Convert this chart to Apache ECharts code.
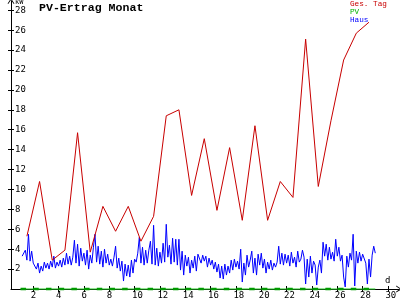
<!DOCTYPE html>
<html>
<head>
<meta charset="utf-8">
<script src="https://cdn.jsdelivr.net/npm/echarts@6/dist/echarts.min.js"></script>
<style>
html,body{margin:0;padding:0;background:#fff;}
#c{width:400px;height:300px;}
</style>
</head>
<body>
<div id="c"></div>
<script>
// ---- data ----
const titleText = 'PV-Ertrag Monat';
const legendNames = ['Ges. Tag', 'PV', 'Haus'];
const yUnit = 'kW';
const xUnit = 'd';
const xTickValues = [2,4,6,8,10,12,14,16,18,20,22,24,26,28,30];
const yTickValues = [2,4,6,8,10,12,14,16,18,20,22,24,26,28];

// daily totals (plotted at mid-day)
const gesTagDays = [1.5,2.5,3.5,4.5,5.5,6.5,7.5,8.5,9.5,10.5,11.5,12.5,13.5,14.5,15.5,16.5,17.5,18.5,19.5,20.5,21.5,22.5,23.5,24.5,25.5,26.5,27.5,28.5];
const gesTagValues = [5.3,10.8,2.9,3.9,15.7,3.7,8.3,5.8,8.3,4.8,7.3,17.4,18.0,9.4,15.1,7.9,14.2,6.9,16.4,6.9,10.8,9.2,25.1,10.3,16.9,23.0,25.7,26.8];

// PV (zero all month)
const pvDays = [1,2,3,4,5,6,7,8,9,10,11,12,13,14,15,16,17,18,19,20,21,22,23,24,25,26,27,28,29];
const pvValues = [0,0,0,0,0,0,0,0,0,0,0,0,0,0,0,0,0,0,0,0,0,0,0,0,0,0,0,0,0];

// house load, every 3 h, starting at day 1.125
const hausStart = 1.125;
const hausStep = 0.125;
const hausDay01 = [3.3,3.4,3.9,2.9,5.5,2.8,3.8,2.6];
const hausDay02 = [2.4,2.0,2.6,1.6,2.3,1.8,2.7,2.1];
const hausDay03 = [2.6,2.0,2.8,2.2,3.3,2.1,2.7,2.3];
const hausDay04 = [2.9,2.2,3.1,2.4,3.6,2.5,3.3,2.4];
const hausDay05 = [3.2,4.9,2.6,4.5,2.3,4.1,2.8,3.6];
const hausDay06 = [2.4,3.9,2.0,3.4,2.6,4.2,5.5,2.7];
const hausDay07 = [4.3,2.5,3.8,2.2,4.0,2.6,3.5,2.4];
const hausDay08 = [3.0,2.3,3.2,4.3,2.1,3.1,1.8,2.8];
const hausDay09 = [0.8,2.5,1.3,2.4,1.2,2.9,1.6,3.0];
const hausDay10 = [2.7,3.6,5.2,2.6,4.2,2.4,3.9,2.6];
const hausDay11 = [3.9,4.8,2.5,6.4,2.4,4.1,2.3,3.7];
const hausDay12 = [2.6,4.6,2.7,6.5,3.2,4.4,2.5,5.1];
const hausDay13 = [2.7,5.0,2.4,5.0,1.9,3.8,1.4,3.4];
const hausDay14 = [2.3,3.2,1.6,2.9,2.1,3.3,1.8,3.5];
const hausDay15 = [3.7,2.6,3.4,2.8,3.3,2.2,3.1,2.4];
const hausDay16 = [2.9,2.0,2.7,1.7,2.5,1.1,2.3,1.0];
const hausDay17 = [2.5,1.4,2.3,1.6,2.9,1.9,3.0,2.2];
const hausDay18 = [2.8,2.0,4.0,0.7,2.6,1.4,3.4,2.2];
const hausDay19 = [2.9,3.8,1.6,3.1,1.4,3.5,2.4,3.6];
const hausDay20 = [2.1,3.0,1.6,2.7,2.0,2.9,1.9,2.6];
const hausDay21 = [2.2,2.7,4.3,2.5,3.6,2.4,3.5,2.6];
const hausDay22 = [3.4,2.3,3.7,2.6,3.2,2.2,3.8,2.7];
const hausDay23 = [3.0,3.9,3.2,0.5,3.0,1.2,3.3,1.6];
const hausDay24 = [2.8,2.4,0.4,2.2,2.9,1.6,4.7,3.3];
const hausDay25 = [4.5,2.9,4.2,3.0,3.7,2.8,5.0,3.3];
const hausDay26 = [4.2,2.8,3.4,1.2,0.2,3.3,2.2,3.6];
const hausDay27 = [2.9,5.5,0.3,3.8,2.6,3.7,2.8,3.5];
const hausDay28 = [3.3,2.6,0.5,3.0,1.2,3.4,4.3,3.6];
const hausRows = [hausDay01,hausDay02,hausDay03,hausDay04,hausDay05,hausDay06,hausDay07,hausDay08,hausDay09,hausDay10,
  hausDay11,hausDay12,hausDay13,hausDay14,hausDay15,hausDay16,hausDay17,hausDay18,hausDay19,hausDay20,
  hausDay21,hausDay22,hausDay23,hausDay24,hausDay25,hausDay26,hausDay27,hausDay28];

// ---- build ----
const hausData = [].concat(...hausRows).map((v, i) => [hausStart + i * hausStep, v]);
const gesData = gesTagDays.map((d, i) => [d, gesTagValues[i]]);
const pvData = pvDays.map((d, i) => [d, pvValues[i]]);

const RED = '#c80000', GREEN = '#00b400', BLUE = '#0000ff';
const monoFont = 'DejaVu Sans Mono';
const arrow = 'path://M5,0 L10,8 L8.6,8 L5,2.4 L1.4,8 L0,8 Z';

const chart = echarts.init(document.getElementById('c'), null, {renderer: 'canvas'});
const xMin = 0.245, xMax = 30.87;
const yMin = 0, yMax = 28.93;

chart.setOption({
  animation: false,
  backgroundColor: '#fff',
  grid: {left: 11, right: 1, top: 1, bottom: 9.7, containLabel: false},
  xAxis: [{
    type: 'value', min: xMin, max: xMax, position: 'bottom',
    axisLine: {show: true, onZero: false, lineStyle: {color: '#000', width: 1}, symbol: ['none', arrow], symbolSize: [7, 6]},
    axisTick: {show: true, length: 3, customValues: xTickValues, lineStyle: {color: '#000'}},
    axisLabel: {show: true, customValues: xTickValues.map(v => v - 0.2), formatter: v => String(Math.round(v + 0.2)),
      align: 'left', margin: 2, fontFamily: monoFont, fontSize: 9, color: '#000'},
    splitLine: {show: false}
  }, {
    type: 'value', min: xMin, max: xMax, position: 'bottom',
    axisLine: {show: false},
    axisTick: {show: true, inside: true, length: 3, customValues: xTickValues, lineStyle: {color: '#000'}},
    axisLabel: {show: false}, splitLine: {show: false}
  }],
  yAxis: [{
    type: 'value', min: yMin, max: yMax, position: 'left',
    axisLine: {show: true, onZero: false, lineStyle: {color: '#000', width: 1}, symbol: ['none', arrow], symbolSize: [7, 6]},
    axisTick: {show: true, length: 3, customValues: yTickValues, lineStyle: {color: '#000'}},
    axisLabel: {show: true, inside: true, margin: 4, customValues: yTickValues, fontFamily: monoFont, fontSize: 9, color: '#000'},
    splitLine: {show: false}
  }, {
    type: 'value', min: yMin, max: yMax, position: 'left',
    axisLine: {show: false},
    axisTick: {show: true, inside: true, length: 3, customValues: yTickValues, lineStyle: {color: '#000'}},
    axisLabel: {show: false}, splitLine: {show: false}
  }],
  series: [
    {name: legendNames[1], type: 'line', data: pvData, showSymbol: false, symbol: 'none', clip: false,
      lineStyle: {color: '#22cc22', width: 1}, z: 2},
    {name: legendNames[1] + '_dash', type: 'line', data: pvData, showSymbol: false, symbol: 'none', clip: false,
      lineStyle: {color: '#009a00', width: 2.5, type: [5.5, 7.2], dashOffset: 0}, z: 3},
    {name: legendNames[2], type: 'line', data: hausData, showSymbol: false, symbol: 'none', clip: false,
      lineStyle: {color: BLUE, width: 1}, z: 4},
    {name: legendNames[0], type: 'line', data: gesData, showSymbol: false, symbol: 'none', clip: false,
      lineStyle: {color: RED, width: 1}, z: 5}
  ],
  graphic: [
    {type: 'text', left: 39, top: 2, style: {text: titleText, font: 'bold 11.6px "Liberation Mono"', fill: '#000'}},
    {type: 'text', left: 15, top: -1, style: {text: yUnit, font: '7px "DejaVu Sans Mono"', fill: '#000'}},
    {type: 'text', left: 385, top: 276, style: {text: xUnit, font: '9px "DejaVu Sans Mono"', fill: '#000'}},
    {type: 'text', left: 350, top: 0, style: {text: legendNames[0], font: '7.7px "Liberation Mono"', fill: RED}},
    {type: 'text', left: 350, top: 8, style: {text: legendNames[1], font: '7.7px "Liberation Mono"', fill: GREEN}},
    {type: 'text', left: 350, top: 16, style: {text: legendNames[2], font: '7.7px "Liberation Mono"', fill: BLUE}}
  ]
});
</script>
</body>
</html>
